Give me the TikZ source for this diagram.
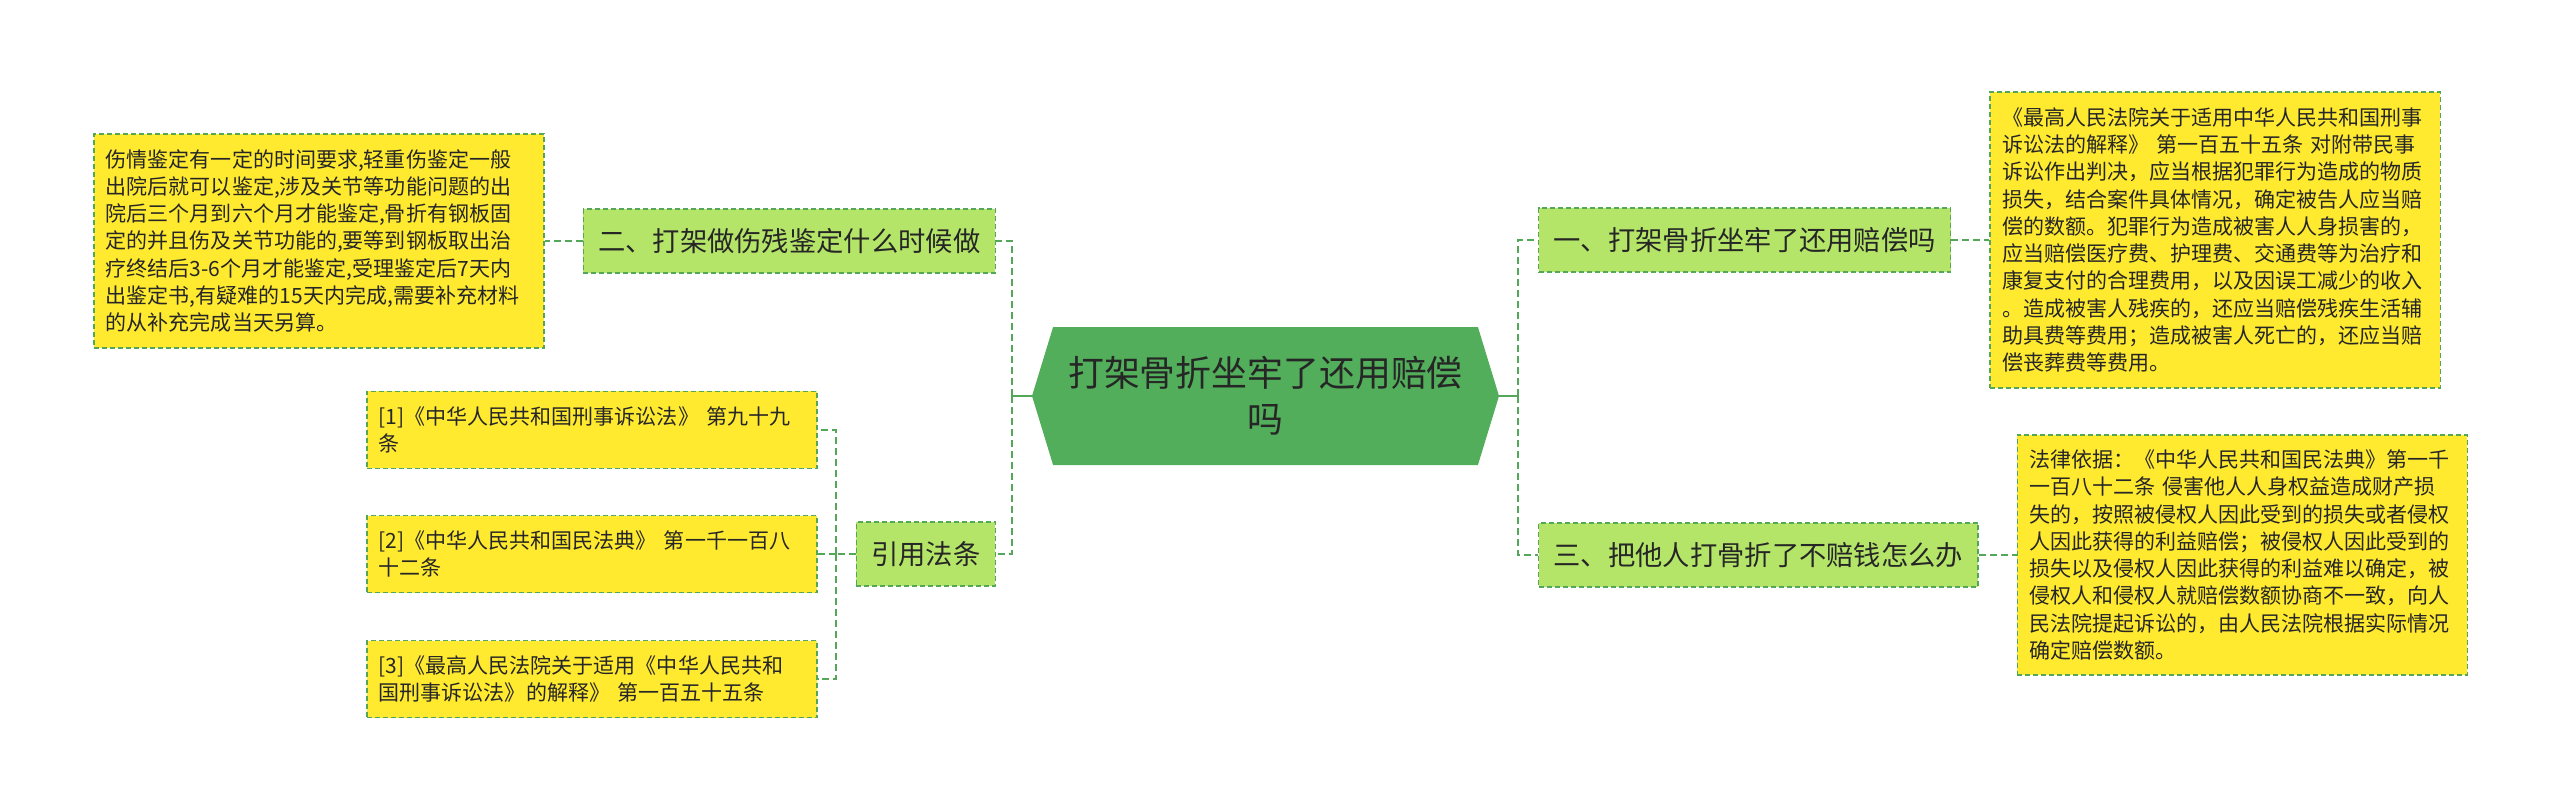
\documentclass[tikz,border=0pt]{standalone}
\usepackage{fontspec}
\setmainfont{Noto Sans CJK SC}
\usetikzlibrary{shapes.symbols, positioning}

\definecolor{rootgreen}{RGB}{82,174,90}
\definecolor{topicgreen}{RGB}{180,229,104}
\definecolor{noteyellow}{RGB}{255,234,48}
\definecolor{linegreen}{RGB}{84,166,88}
\definecolor{inkgray}{RGB}{38,38,38}

\begin{document}
\begin{tikzpicture}[
        x=1bp, y=-1bp,
        node distance=38bp,
        root/.style={signal, signal to=west and east, signal pointer angle=146, fill=rootgreen, text=inkgray, minimum width=467bp, minimum height=138bp, align=center, font=\fontsize{36}{46}\selectfont},
        topic/.style={rectangle, draw=linegreen, dash pattern=on 5bp off 3bp, line width=1.3bp, fill=topicgreen, text=inkgray, minimum height=64bp, inner xsep=15bp, font=\fontsize{27.4}{33}\selectfont},
        note/.style={rectangle, draw=linegreen, dash pattern=on 5bp off 3bp, line width=1.3bp, fill=noteyellow, text=inkgray, align=left, inner xsep=12bp, text width=426bp, font=\fontsize{21.1}{27.4}\selectfont},
        link/.style={draw=linegreen, line width=2bp, dash pattern=on 7bp off 4bp},
        stem/.style={draw=linegreen, line width=2.5bp}
    ]
    \useasboundingbox (0,0) rectangle (2560,807);
%
    % Nodes
    \node[root] (root) at (1265.5,396) {打架骨折坐牢了还用赔偿\\吗};
    \node[topic, anchor=east] (er) at (996,241) {二、打架做伤残鉴定什么时候做};
    \node[topic, anchor=east] (yin) at (996,554) {引用法条};
    \node[topic, anchor=west] (yi) at (1538,240) {一、打架骨折坐牢了还用赔偿吗};
    \node[topic, anchor=west] (san) at (1538,555) {三、把他人打骨折了不赔钱怎么办};
%
    % Notes
    \node[note, minimum height=214bp, left=of er] (jianding) {伤情鉴定有一定的时间要求,轻重伤鉴定一般\\出院后就可以鉴定,涉及关节等功能问题的出\\院后三个月到六个月才能鉴定,骨折有钢板固\\定的并且伤及关节功能的,要等到钢板取出治\\疗终结后3-6个月才能鉴定,受理鉴定后7天内\\出鉴定书,有疑难的15天内完成,需要补充材料\\的从补充完成当天另算。};
    \node[note, minimum height=77bp, left=of yin] (law2) {[2]《中华人民共和国民法典》 第一千一百八\\十二条};
    \node[note, minimum height=77bp, above=46bp of law2] (law1) {[1]《中华人民共和国刑事诉讼法》 第九十九\\条};
    \node[note, minimum height=77bp, below=47bp of law2] (law3) {[3]《最高人民法院关于适用《中华人民共和\\国刑事诉讼法》的解释》 第一百五十五条};
    \node[note, minimum height=296bp, right=of yi] (peichang) {《最高人民法院关于适用中华人民共和国刑事\\诉讼法的解释》 第一百五十五条 对附带民事\\诉讼作出判决，应当根据犯罪行为造成的物质\\损失，结合案件具体情况，确定被告人应当赔\\偿的数额。犯罪行为造成被害人人身损害的，\\应当赔偿医疗费、护理费、交通费等为治疗和\\康复支付的合理费用，以及因误工减少的收入\\。造成被害人残疾的，还应当赔偿残疾生活辅\\助具费等费用；造成被害人死亡的，还应当赔\\偿丧葬费等费用。};
    \node[note, minimum height=240bp, right=of san] (yiju) {法律依据：《中华人民共和国民法典》第一千\\一百八十二条 侵害他人人身权益造成财产损\\失的，按照被侵权人因此受到的损失或者侵权\\人因此获得的利益赔偿；被侵权人因此受到的\\损失以及侵权人因此获得的利益难以确定，被\\侵权人和侵权人就赔偿数额协商不一致，向人\\民法院提起诉讼的，由人民法院根据实际情况\\确定赔偿数额。};
%
    % Connectors
    \coordinate (lbus) at (1012,396);
    \coordinate (rbus) at (1518,396);
    \coordinate (cbus) at (836,554);
    \draw[stem] (root.west) -- (lbus);
    \draw[stem] (root.east) -- (rbus);
    \draw[link] (lbus) |- (er.east);
    \draw[link] (lbus) |- (yin.east);
    \draw[link] (rbus) |- (yi.west);
    \draw[link] (rbus) |- (san.west);
    \draw[link] (er) -- (jianding);
    \draw[link] (yi) -- (peichang);
    \draw[link] (san) -- (yiju);
    \draw[link] (yin) -- (cbus);
    \draw[link] (cbus) |- (law1.east);
    \draw[link] (cbus) -- (law2.east);
    \draw[link] (cbus) |- (law3.east);
%
\end{tikzpicture}
\end{document}
